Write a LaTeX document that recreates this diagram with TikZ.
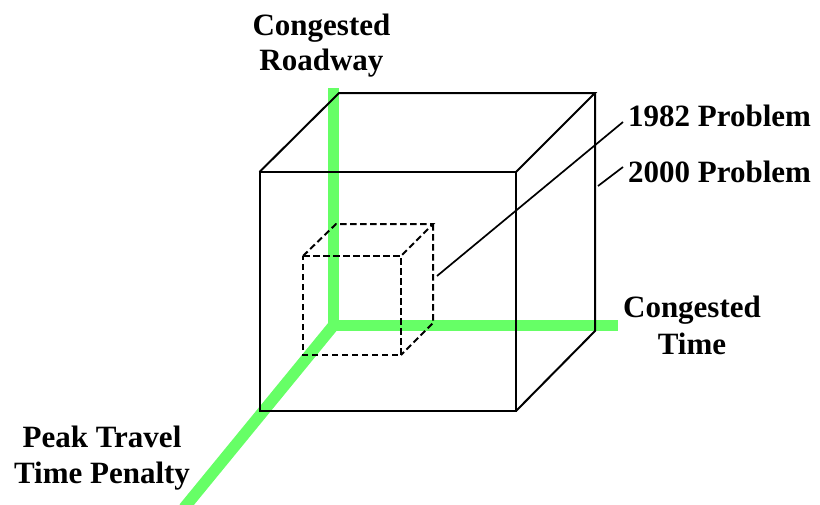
\documentclass[tikz,border=0pt]{standalone}
\usepackage{fontspec}
\setmainfont{Liberation Serif}
\begin{document}
\begin{tikzpicture}[x=1pt,y=-1pt,
  lbl/.style={font=\fontsize{31}{35}\selectfont\bfseries, inner sep=0pt, anchor=base},
  lblw/.style={font=\fontsize{31}{35}\selectfont\bfseries, inner sep=0pt, anchor=base west},
  axisline/.style={draw=axisgreen, line width=11.5pt},
  cubeedge/.style={draw=black, line width=2pt, line join=miter},
  hidedge/.style={draw=black, line width=2pt, dash pattern=on 6.5pt off 3.5pt},
  leader/.style={draw=black, line width=1.7pt}]
\definecolor{axisgreen}{RGB}{102,255,102}
\useasboundingbox (0,0) rectangle (820,504);
% axes
\coordinate (O) at (333.5,325.5);
\coordinate (Ytop) at (333.5,88);
\coordinate (Xend) at (618,325.5);
\coordinate (Zend) at (184,508);
\draw[axisline] (O) -- (Ytop);
\draw[axisline] (O) -- (Xend);
\draw[axisline] (O) -- (Zend);
% big cube
\coordinate (F1) at (259.5,172);
\coordinate (F2) at (516,172);
\coordinate (F3) at (516,411);
\coordinate (F4) at (259.5,411);
\coordinate (B1) at (339,93);
\coordinate (B2) at (595,93);
\coordinate (B3) at (595,331);
\draw[cubeedge] (F1) -- (F2) -- (F3) -- (F4) -- cycle;
\draw[cubeedge] (F1) -- (B1) -- (B2) -- (F2);
\draw[cubeedge] (B2) -- (B3) -- (F3);
% small cube
\coordinate (f1) at (303,256);
\coordinate (f2) at (401,256);
\coordinate (f3) at (401,355);
\coordinate (f4) at (303,355);
\coordinate (b1) at (336,224);
\coordinate (b2) at (433,224);
\coordinate (b3) at (433,323);
\draw[hidedge] (f1) -- (f2) -- (f3) -- (f4) -- cycle;
\draw[hidedge] (f1) -- (b1) -- (b2) -- (f2);
\draw[hidedge] (b2) -- (b3) -- (f3);
% labels
\node[lbl] (cr1) at (321.5,35) {Congested};
\node[lbl] (cr2) at (321.5,70) {Roadway};
\node[lbl] (ct1) at (692,317) {Congested};
\node[lbl] (ct2) at (692,354) {Time};
\node[lbl] (pt1) at (102,447) {Peak Travel};
\node[lbl] (pt2) at (102,483) {Time Penalty};
\node[lblw] (p82) at (628,126) {1982 Problem};
\node[lblw] (p00) at (628,182) {2000 Problem};
% leaders
\coordinate (s82) at (437,276);
\coordinate (e82) at (623,122);
\coordinate (s00) at (598,186);
\coordinate (e00) at (623,167);
\draw[leader] (s82) -- (e82);
\draw[leader] (s00) -- (e00);
\end{tikzpicture}
\end{document}
